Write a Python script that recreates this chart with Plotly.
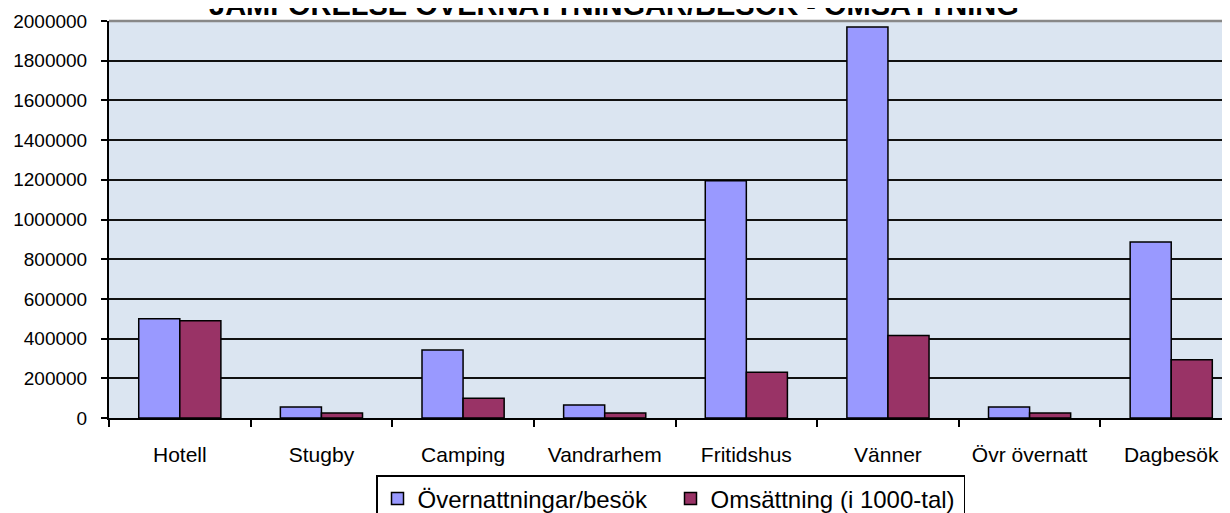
import plotly.graph_objects as go

# Categories and series
categories = ["Hotell", "Stugby", "Camping", "Vandrarhem", "Fritidshus",
              "Vänner", "Övr övernatt", "Dagbesök"]
overnattningar = [500000, 55000, 343000, 65000, 1195000, 1970000, 55000, 887000]
omsattning = [490000, 25000, 100000, 25000, 230000, 415000, 25000, 293000]
y_ticks = [0, 200000, 400000, 600000, 800000, 1000000, 1200000,
           1400000, 1600000, 1800000, 2000000]

title_text = "JÄMFÖRELSE ÖVERNATTNINGAR/BESÖK - OMSÄTTNING"
font_family = "Liberation Sans, Arial, sans-serif"

fig = go.Figure()

fig.add_trace(go.Bar(
    x=categories,
    y=overnattningar,
    name="Övernattningar/besök",
    marker=dict(color="#9999FF", line=dict(color="black", width=1.5)),
))
fig.add_trace(go.Bar(
    x=categories,
    y=omsattning,
    name="Omsättning (i 1000-tal)",
    marker=dict(color="#993366", line=dict(color="black", width=1.5)),
))

# page body adds an 8px offset, so margins are shifted by that much
fig.update_layout(
    width=1230,
    height=513,
    margin=dict(l=101, r=8, t=13, b=103, autoexpand=False),
    paper_bgcolor="white",
    plot_bgcolor="#DBE5F1",
    font=dict(family=font_family, color="black"),
    barmode="group",
    bargap=0.42,
    bargroupgap=0,
    showlegend=True,
    legend=dict(
        orientation="h",
        xref="container",
        yref="container",
        x=368 / 1230,
        y=1 - 467 / 513,
        xanchor="left",
        yanchor="top",
        bordercolor="black",
        borderwidth=1.5,
        bgcolor="white",
        font=dict(size=24, family=font_family),
        entrywidth=248,
        traceorder="normal",
    ),
    xaxis=dict(
        type="category",
        range=[-0.5, 7.415],
        showline=True,
        linecolor="black",
        linewidth=2,
        ticks="outside",
        tickson="boundaries",
        ticklen=7,
        tickwidth=1.5,
        tickcolor="black",
        tickfont=dict(size=21),
        ticklabelstandoff=17,
        showgrid=False,
    ),
    yaxis=dict(
        range=[0, 2000000],
        tickvals=y_ticks,
        ticktext=[str(v) for v in y_ticks],
        showline=True,
        linecolor="black",
        linewidth=2,
        ticks="outside",
        ticklen=6,
        tickwidth=1.5,
        tickcolor="black",
        tickfont=dict(size=19),
        ticklabelstandoff=10,
        showgrid=True,
        gridcolor="#111111",
        gridwidth=1.5,
        zeroline=False,
    ),
    annotations=[dict(
        text=f"<b>{title_text}</b>",
        xref="paper", yref="paper",
        x=0.4505, y=1.040,
        xanchor="center", yanchor="middle",
        showarrow=False,
        font=dict(size=29, family=font_family, color="black"),
    )],
    shapes=[dict(
        type="line", xref="paper", yref="paper",
        x0=0, x1=1, y0=1, y1=1,
        line=dict(color="#888888", width=2.5),
    )],
)

fig.write_html("out.html")
